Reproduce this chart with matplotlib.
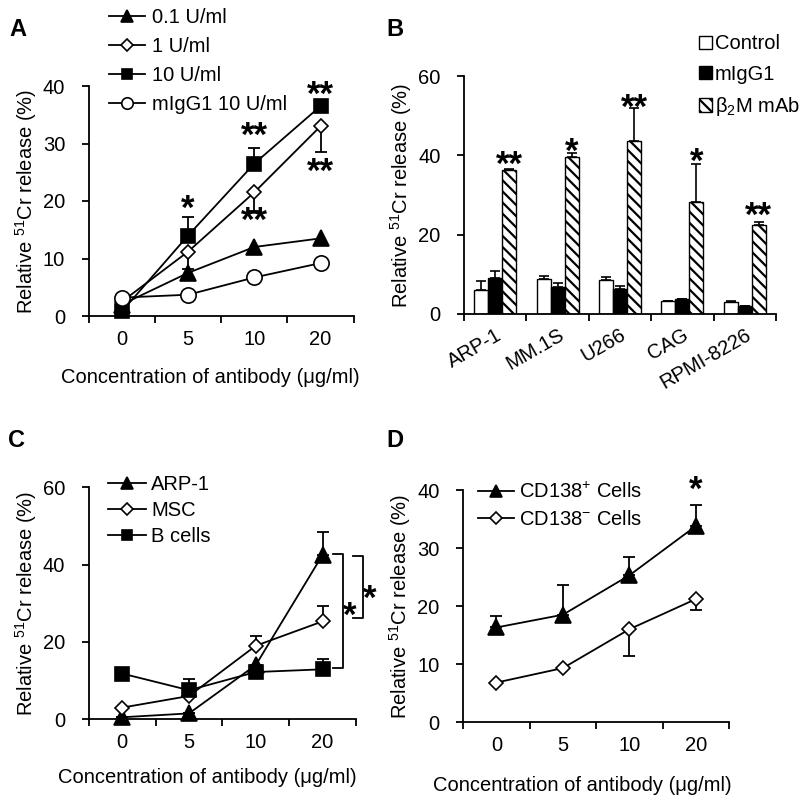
import matplotlib
matplotlib.use('Agg')
import matplotlib.pyplot as plt
from matplotlib import transforms
import numpy as np

plt.rcParams['font.family'] = ['Liberation Sans', 'DejaVu Sans']
plt.rcParams['mathtext.fontset'] = 'custom'
plt.rcParams['mathtext.rm'] = 'Liberation Sans'
plt.rcParams['mathtext.it'] = 'Liberation Sans:italic'
plt.rcParams['mathtext.bf'] = 'Liberation Sans:bold'
plt.rcParams['hatch.linewidth'] = 1.6

# data
conc = ['0', '5', '10', '20']

# A: IFN dose
a_01 = [2.0, 7.5, 12.0, 13.5]
a_1 = [2.5, 11.2, 21.5, 33.0]
a_1_lo = [0, 3.0, 3.3, 4.5]
a_10 = [0.8, 14.0, 26.5, 36.5]
a_10_hi = [0, 3.3, 2.7, 0]
a_igg = [3.2, 3.7, 6.7, 9.2]
a_stars = [(1, 20.2, '*'), (2, 32.9, '**'), (3, 40.0, '**'), (2, 18.1, '**'), (3, 26.6, '**')]

# B: cell lines
lines_b = ['ARP-1', 'MM.1S', 'U266', 'CAG', 'RPMI-8226']
ctrl = [6.0, 8.8, 8.6, 3.2, 3.0]
ctrl_err = [2.3, 0.8, 0.8, 0.2, 0.2]
igg = [9.0, 6.9, 6.3, 3.7, 2.0]
igg_err = [1.8, 0.8, 0.7, 0.1, 0.1]
b2m = [36.3, 39.5, 43.6, 28.2, 22.5]
b2m_err = [0.3, 1.1, 8.4, 9.6, 0.7]
b_stars = ['**', '*', '**', '*', '**']
b_star_y = [40.0, 43.1, 54.4, 40.8, 27.0]

# C: cell types
c_arp = [0.5, 1.5, 14.0, 42.5]
c_arp_hi = [0, 0, 0, 6.0]
c_msc = [3.0, 6.0, 19.0, 25.3]
c_msc_hi = [0, 0, 2.5, 3.9]
c_b = [11.8, 7.5, 12.2, 12.9]
c_b_hi = [0, 3.0, 0, 2.6]

# D: CD138 sorted
d_pos = [16.3, 18.5, 25.3, 33.8]
d_pos_hi = [2.0, 5.1, 3.2, 3.7]
d_neg = [6.8, 9.3, 16.0, 21.2]
d_neg_lo = [0, 0, 4.7, 1.9]

FS = 14.5
ylab = r'Relative $^{51}$Cr release (%)'
xlab = 'Concentration of antibody (\u03bcg/ml)'

fig = plt.figure(figsize=(8, 8), dpi=100)


def style(ax, ymax, ystep, xlab_pos):
    for s in ['top', 'right']:
        ax.spines[s].set_visible(False)
    for s in ['left', 'bottom']:
        ax.spines[s].set_linewidth(1.3)
    ax.set_ylim(0, ymax)
    ax.set_yticks(np.arange(0, ymax + 0.1, ystep))
    ax.tick_params(axis='y', direction='out', length=5, width=1.3, labelsize=FS, pad=12)
    ax.set_xlim(-0.5, 3.5)
    ax.set_xticks(np.arange(-0.5, 3.6, 1))
    ax.set_xticklabels([])
    ax.set_xticks(range(4), minor=True)
    ax.set_xticklabels(conc, minor=True, fontsize=FS)
    ax.tick_params(axis='x', which='major', direction='out', length=5, width=1.3)
    ax.tick_params(axis='x', which='minor', length=0, pad=10)
    ax.set_ylabel(ylab, fontsize=FS, labelpad=3)
    ax.set_xlabel(xlab, fontsize=FS)
    ax.xaxis.set_label_coords(*xlab_pos)


def series(ax, y, marker, face, ms, lo=None, hi=None, label=None, z=3):
    x = np.arange(4)
    if lo is not None or hi is not None:
        l = lo if lo is not None else [0] * 4
        h = hi if hi is not None else [0] * 4
        ax.errorbar(x, y, yerr=[l, h], fmt='none', ecolor='k', elinewidth=1.3,
                    capsize=4, capthick=1.3, zorder=z - 0.5)
    ax.plot(x, y, color='k', lw=1.3, marker=marker, ms=ms, mfc=face, mec='k',
            mew=1.2, label=label, zorder=z, clip_on=False)


def stars(ax, x, y, s):
    tr = transforms.offset_copy(ax.transData, fig=fig, y=-7, units='points')
    ax.text(x, y, s, ha='center', va='center', fontsize=25, fontweight='bold',
            clip_on=False, transform=tr)


# panel A
axA = fig.add_axes([0.111, 0.605, 0.331, 0.2875])
style(axA, 40, 10, (0.457, -0.225))
series(axA, a_01, '^', 'k', 11, label='0.1 U/ml', z=3)
series(axA, a_1, 'D', 'w', 7.5, lo=a_1_lo, label='1 U/ml', z=4)
series(axA, a_10, 's', 'k', 9.5, hi=a_10_hi, label='10 U/ml', z=5)
series(axA, a_igg, 'o', 'w', 11, label='mIgG1 10 U/ml', z=6)
for x, y, s in a_stars:
    stars(axA, x, y, s)
axA.legend(loc='upper left', bbox_to_anchor=(0.136, 0.990), bbox_transform=fig.transFigure,
           frameon=False, fontsize=FS, markerscale=0.75, handlelength=1.8,
           handletextpad=0.35, labelspacing=0.5, borderpad=0, borderaxespad=0)

# panel B
axB = fig.add_axes([0.58, 0.6075, 0.39, 0.2975])
for s in ['top', 'right']:
    axB.spines[s].set_visible(False)
for s in ['left', 'bottom']:
    axB.spines[s].set_linewidth(1.3)
xb = np.arange(len(lines_b))
w = 0.225
kw = dict(edgecolor='k', linewidth=1.0, error_kw=dict(elinewidth=1.2, capthick=1.2), capsize=3.5)
axB.bar(xb - w, ctrl, w, color='w', yerr=[[0] * 5, ctrl_err], label='Control', **kw)
axB.bar(xb, igg, w, color='k', yerr=[[0] * 5, igg_err], label='mIgG1', **kw)
axB.bar(xb + w, b2m, w, color='w', hatch='\\\\\\', yerr=[[0] * 5, b2m_err],
        label='\u03b2$_2$M mAb', **kw)
for i in range(len(lines_b)):
    stars(axB, xb[i] + w, b_star_y[i], b_stars[i])
axB.set_xlim(-0.5, len(lines_b) - 0.5)
axB.set_ylim(0, 60)
axB.set_yticks([0, 20, 40, 60])
axB.tick_params(axis='y', direction='out', length=5, width=1.3, labelsize=FS, pad=12)
axB.set_xticks(np.arange(-0.5, len(lines_b), 1))
axB.set_xticklabels([])
axB.set_xticks(xb, minor=True)
axB.set_xticklabels(lines_b, minor=True, fontsize=FS, rotation=30, ha='right',
                    rotation_mode='anchor')
axB.tick_params(axis='x', which='major', direction='out', length=5, width=1.3)
axB.tick_params(axis='x', which='minor', length=0, pad=8)
axB.set_ylabel(ylab, fontsize=FS, labelpad=3)
axB.legend(loc='upper left', bbox_to_anchor=(0.874, 0.957), bbox_transform=fig.transFigure,
           frameon=False, fontsize=FS, handlelength=0.65, handleheight=0.65,
           handletextpad=0.12, labelspacing=0.56, borderpad=0, borderaxespad=0)

# panel C
axC = fig.add_axes([0.111, 0.101, 0.334, 0.29])
style(axC, 60, 20, (0.442, -0.21))
series(axC, c_arp, '^', 'k', 11, hi=c_arp_hi, label='ARP-1', z=3)
series(axC, c_msc, 'D', 'w', 7.5, hi=c_msc_hi, label='MSC', z=4)
series(axC, c_b, 's', 'k', 9.5, hi=c_b_hi, label='B cells', z=5)
axC.plot([3.16, 3.30, 3.30, 3.16], [42.6, 42.6, 13.2, 13.2], color='k', lw=1.3, clip_on=False)
axC.plot([3.45, 3.60, 3.60, 3.45], [42.1, 42.1, 26.1, 26.1], color='k', lw=1.3, clip_on=False)
stars(axC, 3.41, 29.2, '*')
stars(axC, 3.71, 33.6, '*')
axC.legend(loc='upper left', bbox_to_anchor=(0.135, 0.406), bbox_transform=fig.transFigure,
           frameon=False, fontsize=FS, markerscale=0.75, handlelength=1.9,
           handletextpad=0.25, labelspacing=0.35, borderpad=0, borderaxespad=0)

# panel D
axD = fig.add_axes([0.579, 0.0975, 0.3325, 0.29])
style(axD, 40, 10, (0.447, -0.232))
series(axD, d_pos, '^', 'k', 11, hi=d_pos_hi, label=r'CD138$^{+}$ Cells', z=3)
series(axD, d_neg, 'D', 'w', 7.5, lo=d_neg_lo, label=r'CD138$^{-}$ Cells', z=4)
stars(axD, 3, 41.7, '*')
axD.legend(loc='upper left', bbox_to_anchor=(0.597, 0.397), bbox_transform=fig.transFigure,
           frameon=False, fontsize=FS, markerscale=0.75, handlelength=1.8,
           handletextpad=0.25, labelspacing=0.38, borderpad=0, borderaxespad=0)

for lbl, x, y in [('A', 0.012, 0.978), ('B', 0.483, 0.978), ('C', 0.01, 0.464), ('D', 0.483, 0.464)]:
    fig.text(x, y, lbl, fontsize=17, fontweight='bold', va='top', ha='left')

fig.savefig('out.png', dpi=100)
